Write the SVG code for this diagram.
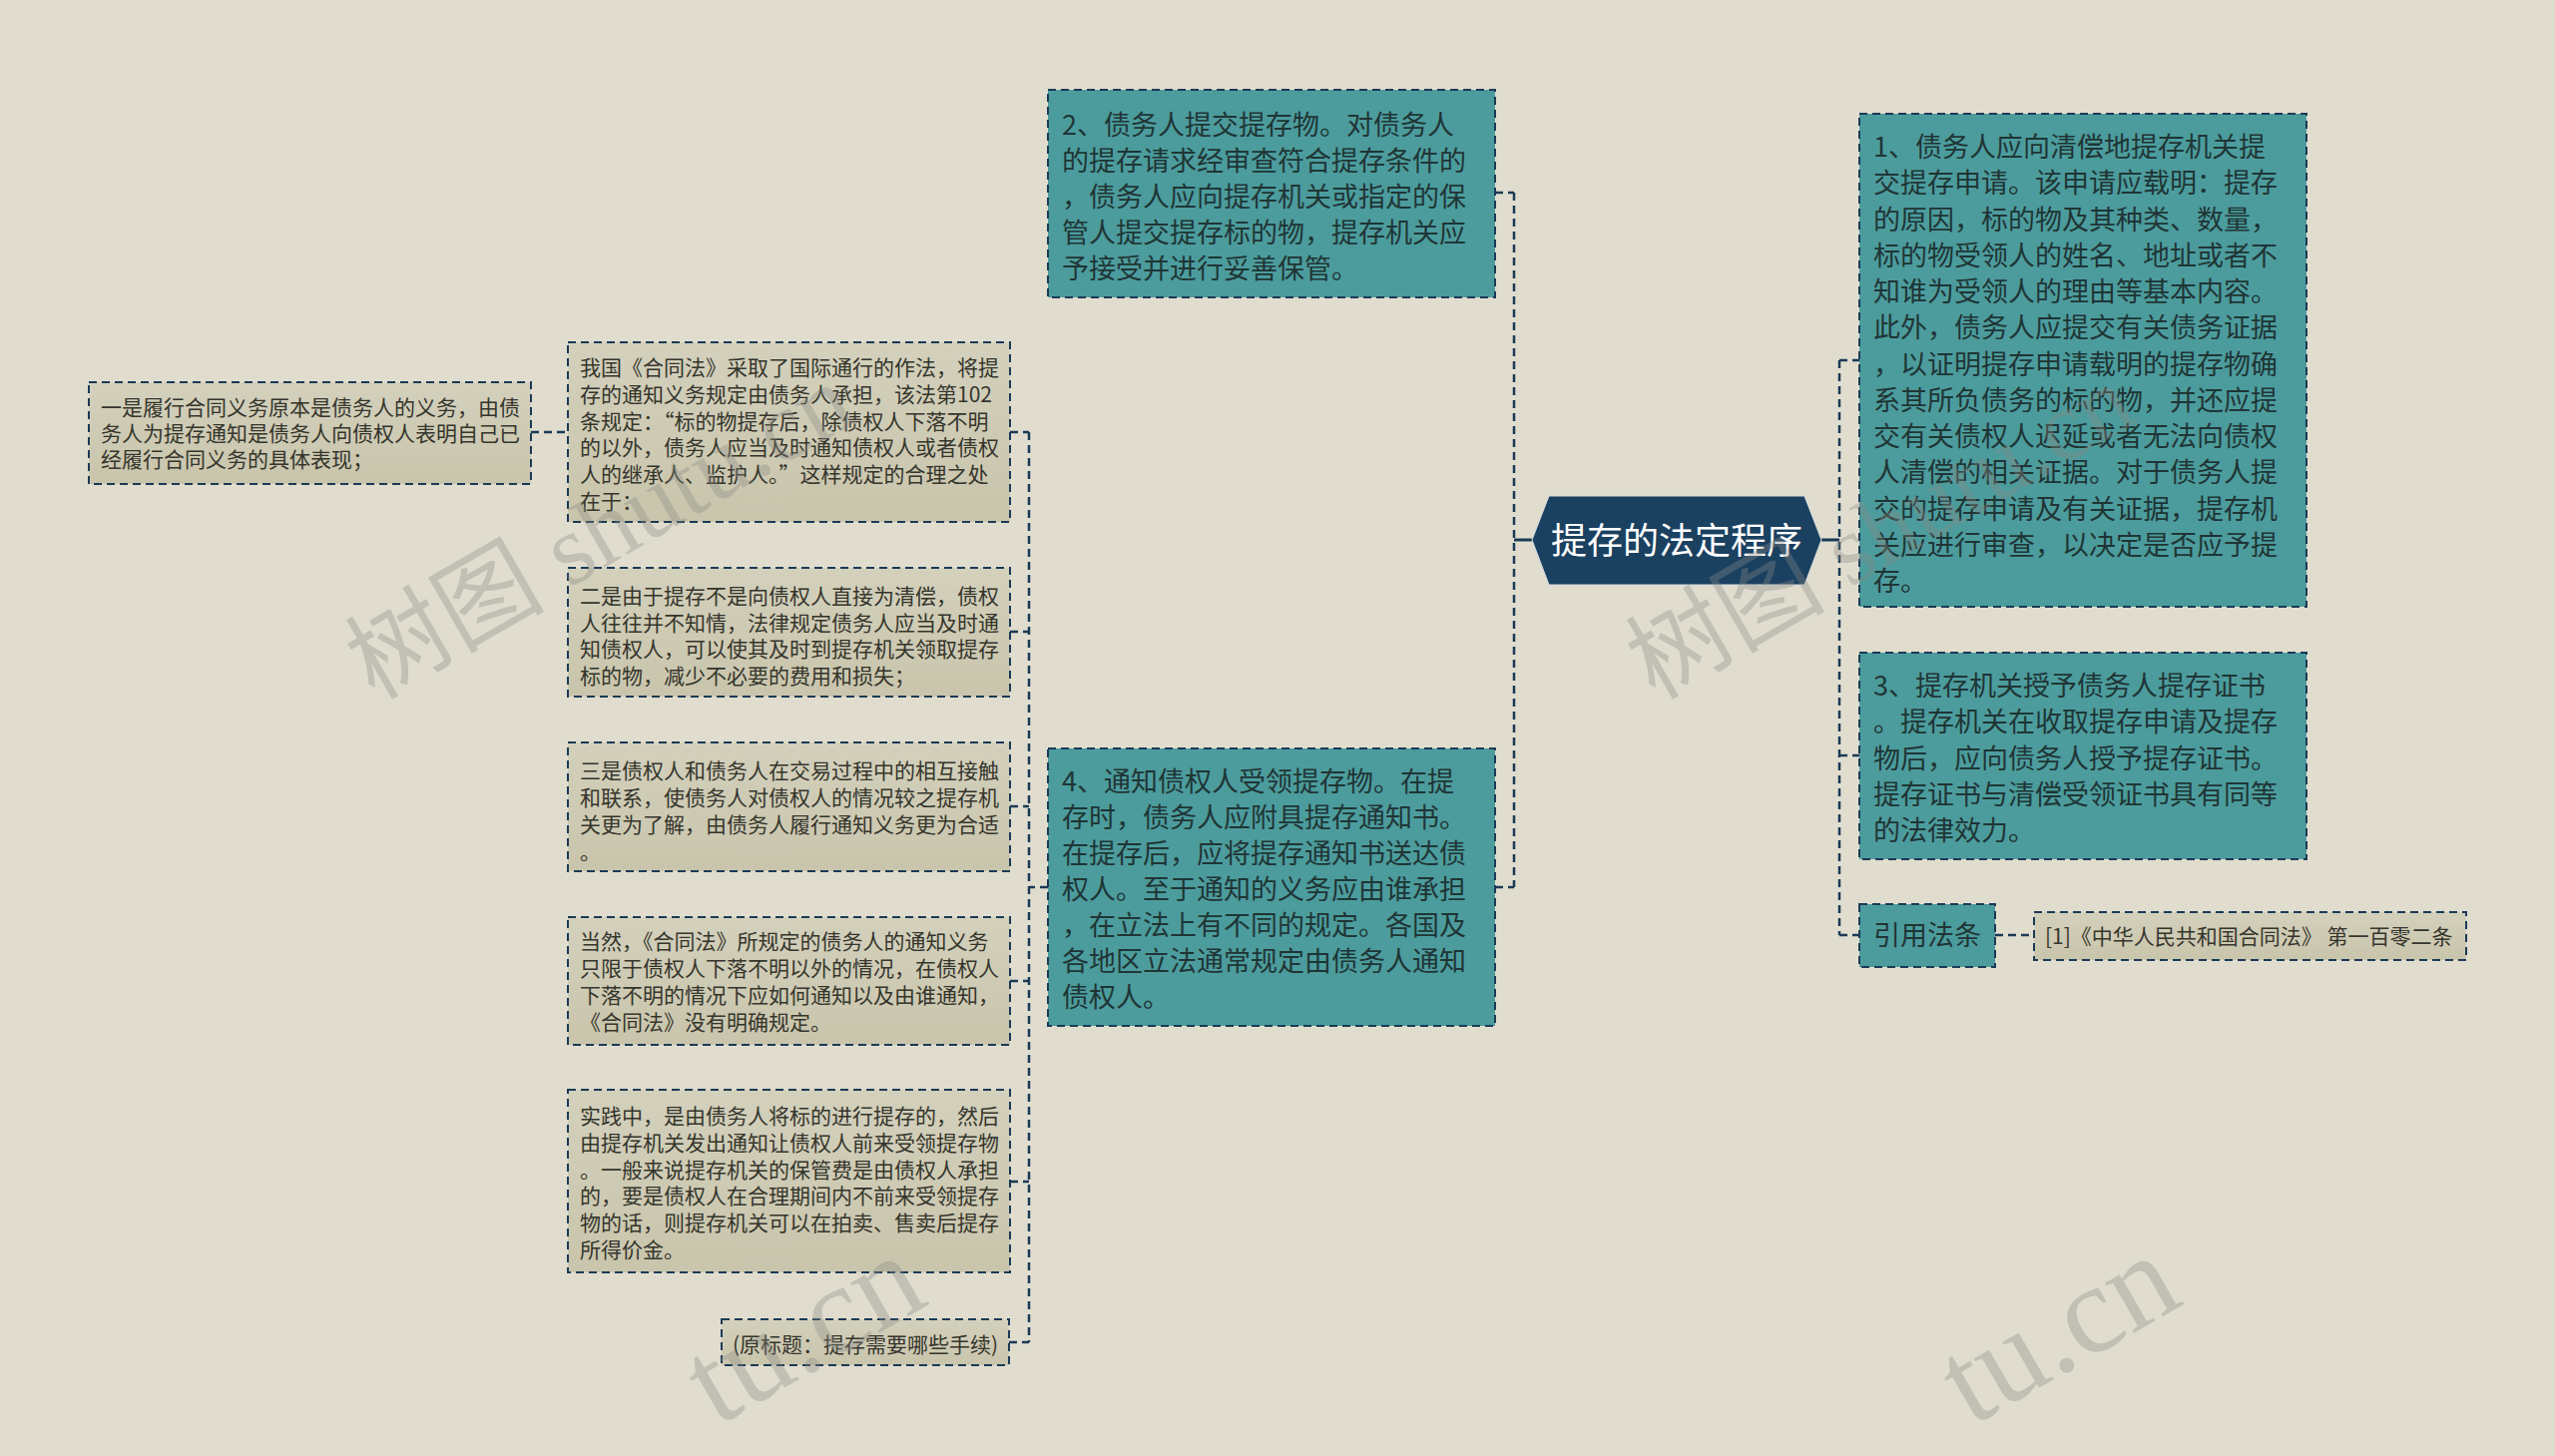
<svg xmlns="http://www.w3.org/2000/svg" width="2560" height="1459" viewBox="0 0 2560 1459">
<defs>
<linearGradient id="tan" x1="0" y1="0" x2="0" y2="1">
<stop offset="0" stop-color="#d3d0bc"/>
<stop offset="1" stop-color="#c9c5ac"/>
</linearGradient>
<style>
.teal{fill:#4c9c9d;stroke:#1b3a55;stroke-width:2;stroke-dasharray:8 5}
.tan{fill:url(#tan);stroke:#1b3a55;stroke-width:2;stroke-dasharray:8 5}
.tt{font-family:"Noto Sans CJK SC","Noto Sans",sans-serif;font-size:27px;fill:#1f3535}
.st{font-family:"Noto Sans CJK SC","Noto Sans",sans-serif;font-size:21px;fill:#35352c}
.ct{font-family:"Noto Sans CJK SC","Noto Sans",sans-serif;font-size:36px;fill:#ffffff}
.dash{fill:none;stroke:#1b3a55;stroke-width:2.5;stroke-dasharray:8 5}
.solid{fill:none;stroke:#1b3a55;stroke-width:3}
.wm{font-family:"Liberation Serif","Noto Sans CJK SC",serif;font-size:100px;fill:#8a8a84;fill-opacity:0.35}
.wmb{font-family:"Liberation Serif","Noto Sans CJK SC",serif;font-size:126px;fill:#8a8a84;fill-opacity:0.35}
</style>
</defs>
<rect width="2560" height="1459" fill="#e0ddcf"/>

<g id="connectors">
<path class="solid" d="M1535 541H1517"/>
<path class="dash" d="M1517 193V889"/>
<path class="dash" d="M1498 193H1517M1498 889H1517"/>
<path class="solid" d="M1825 541H1843"/>
<path class="dash" d="M1843 361V937"/>
<path class="dash" d="M1843 361H1863M1843 757H1863M1843 937H1863"/>
<path class="dash" d="M1999 937H2038"/>
<path class="dash" d="M1050 889H1031"/>
<path class="dash" d="M1031 433V1345"/>
<path class="dash" d="M1012 433H1031M1012 633H1031M1012 808H1031M1012 983H1031M1012 1184H1031M1011 1345H1031"/>
<path class="dash" d="M532 433H569"/>
</g>

<g id="center">
<path d="M1535 541L1552 497H1808L1825 541L1808 586H1552Z" fill="#1b4161" stroke="#d8dde0" stroke-width="1"/>
<text class="ct" x="1680" y="555" text-anchor="middle">提存的法定程序</text>
</g>

<g id="n1">
<rect class="teal" x="1863" y="114" width="448" height="494"/>
<text class="tt" x="1877" y="157"><tspan x="1877">1、债务人应向清偿地提存机关提</tspan><tspan x="1877" dy="36.25">交提存申请。该申请应载明：提存</tspan><tspan x="1877" dy="36.25">的原因，标的物及其种类、数量，</tspan><tspan x="1877" dy="36.25">标的物受领人的姓名、地址或者不</tspan><tspan x="1877" dy="36.25">知谁为受领人的理由等基本内容。</tspan><tspan x="1877" dy="36.25">此外，债务人应提交有关债务证据</tspan><tspan x="1877" dy="36.25">，以证明提存申请载明的提存物确</tspan><tspan x="1877" dy="36.25">系其所负债务的标的物，并还应提</tspan><tspan x="1877" dy="36.25">交有关债权人迟延或者无法向债权</tspan><tspan x="1877" dy="36.25">人清偿的相关证据。对于债务人提</tspan><tspan x="1877" dy="36.25">交的提存申请及有关证据，提存机</tspan><tspan x="1877" dy="36.25">关应进行审查，以决定是否应予提</tspan><tspan x="1877" dy="36.25">存。</tspan></text>
</g>

<g id="n2">
<rect class="teal" x="1050" y="90" width="448" height="208"/>
<text class="tt" x="1064" y="135"><tspan x="1064">2、债务人提交提存物。对债务人</tspan><tspan x="1064" dy="36">的提存请求经审查符合提存条件的</tspan><tspan x="1064" dy="36">，债务人应向提存机关或指定的保</tspan><tspan x="1064" dy="36">管人提交提存标的物，提存机关应</tspan><tspan x="1064" dy="36">予接受并进行妥善保管。</tspan></text>
</g>

<g id="n3">
<rect class="teal" x="1863" y="654" width="448" height="207"/>
<text class="tt" x="1877" y="697"><tspan x="1877">3、提存机关授予债务人提存证书</tspan><tspan x="1877" dy="36.25">。提存机关在收取提存申请及提存</tspan><tspan x="1877" dy="36.25">物后，应向债务人授予提存证书。</tspan><tspan x="1877" dy="36.25">提存证书与清偿受领证书具有同等</tspan><tspan x="1877" dy="36.25">的法律效力。</tspan></text>
</g>

<g id="n4">
<rect class="teal" x="1050" y="750" width="448" height="278"/>
<text class="tt" x="1064" y="793"><tspan x="1064">4、通知债权人受领提存物。在提</tspan><tspan x="1064" dy="36">存时，债务人应附具提存通知书。</tspan><tspan x="1064" dy="36">在提存后，应将提存通知书送达债</tspan><tspan x="1064" dy="36">权人。至于通知的义务应由谁承担</tspan><tspan x="1064" dy="36">，在立法上有不同的规定。各国及</tspan><tspan x="1064" dy="36">各地区立法通常规定由债务人通知</tspan><tspan x="1064" dy="36">债权人。</tspan></text>
</g>

<g id="n5">
<rect class="teal" x="1863" y="906" width="136" height="63"/>
<text class="tt" x="1877" y="947">引用法条</text>
</g>

<g id="n6">
<rect class="tan" x="2038" y="914" width="433" height="48"/>
<text class="st" x="2049" y="946">[1]《中华人民共和国合同法》 第一百零二条</text>
</g>

<g id="nA">
<rect class="tan" x="569" y="343" width="443" height="180"/>
<text class="st" x="581" y="376"><tspan x="581">我国《合同法》采取了国际通行的作法，将提</tspan><tspan x="581" dy="26.8">存的通知义务规定由债务人承担，该法第102</tspan><tspan x="581" dy="26.8">条规定：“标的物提存后，除债权人下落不明</tspan><tspan x="581" dy="26.8">的以外，债务人应当及时通知债权人或者债权</tspan><tspan x="581" dy="26.8">人的继承人、监护人。”这样规定的合理之处</tspan><tspan x="581" dy="26.8">在于：</tspan></text>
</g>

<g id="nB">
<rect class="tan" x="569" y="569" width="443" height="129"/>
<text class="st" x="581" y="605"><tspan x="581">二是由于提存不是向债权人直接为清偿，债权</tspan><tspan x="581" dy="26.7">人往往并不知情，法律规定债务人应当及时通</tspan><tspan x="581" dy="26.7">知债权人，可以使其及时到提存机关领取提存</tspan><tspan x="581" dy="26.7">标的物，减少不必要的费用和损失；</tspan></text>
</g>

<g id="nC">
<rect class="tan" x="89" y="383" width="443" height="102"/>
<text class="st" x="101" y="416"><tspan x="101">一是履行合同义务原本是债务人的义务，由债</tspan><tspan x="101" dy="26">务人为提存通知是债务人向债权人表明自己已</tspan><tspan x="101" dy="26">经履行合同义务的具体表现；</tspan></text>
</g>

<g id="nD">
<rect class="tan" x="569" y="744" width="443" height="129"/>
<text class="st" x="581" y="780"><tspan x="581">三是债权人和债务人在交易过程中的相互接触</tspan><tspan x="581" dy="27">和联系，使债务人对债权人的情况较之提存机</tspan><tspan x="581" dy="27">关更为了解，由债务人履行通知义务更为合适</tspan><tspan x="581" dy="27">。</tspan></text>
</g>

<g id="nE">
<rect class="tan" x="569" y="919" width="443" height="128"/>
<text class="st" x="581" y="951"><tspan x="581">当然，《合同法》所规定的债务人的通知义务</tspan><tspan x="581" dy="27">只限于债权人下落不明以外的情况，在债权人</tspan><tspan x="581" dy="27">下落不明的情况下应如何通知以及由谁通知，</tspan><tspan x="581" dy="27">《合同法》没有明确规定。</tspan></text>
</g>

<g id="nF">
<rect class="tan" x="569" y="1092" width="443" height="183"/>
<text class="st" x="581" y="1126"><tspan x="581">实践中，是由债务人将标的进行提存的，然后</tspan><tspan x="581" dy="26.8">由提存机关发出通知让债权人前来受领提存物</tspan><tspan x="581" dy="26.8">。一般来说提存机关的保管费是由债权人承担</tspan><tspan x="581" dy="26.8">的，要是债权人在合理期间内不前来受领提存</tspan><tspan x="581" dy="26.8">物的话，则提存机关可以在拍卖、售卖后提存</tspan><tspan x="581" dy="26.8">所得价金。</tspan></text>
</g>

<g id="nG">
<rect class="tan" x="723" y="1322" width="288" height="46"/>
<text class="st" x="734" y="1355">(原标题：提存需要哪些手续)</text>
</g>

<g id="watermarks">
<text class="wm" transform="translate(375 702) rotate(-30)">树图 shutu.cn</text>
<text class="wm" transform="translate(1658 702) rotate(-30)">树图 shutu.cn</text>
<text class="wmb" transform="translate(718 1430) rotate(-30)">tu.cn</text>
<text class="wmb" transform="translate(1975 1430) rotate(-30)">tu.cn</text>
</g>
</svg>
